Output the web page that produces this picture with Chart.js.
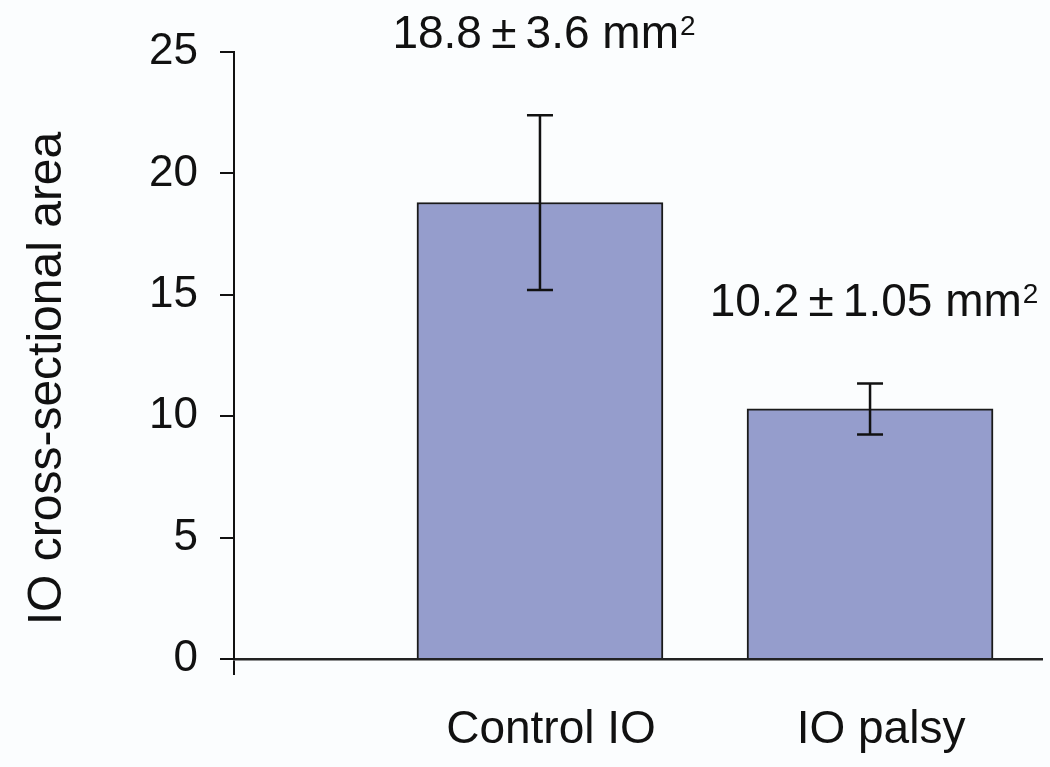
<!DOCTYPE html>
<html>
<head>
<meta charset="utf-8">
<script src="https://cdn.jsdelivr.net/npm/chart.js@4"></script>
<style>
  html, body { margin: 0; padding: 0; background: #fbfdfe; }
  #wrap { width: 1050px; height: 767px; position: relative; }
</style>
</head>
<body>
<div id="wrap"><canvas id="myChart"></canvas></div>
<script>
// values
const categories = ["Control IO", "IO palsy"];
const means = [18.8, 10.3];
const errors = [3.6, 1.05];
const notes = ["18.8\u2009\u00b1\u20093.6 mm", "10.2\u2009\u00b1\u20091.05 mm"];
const yMax = 25;
const yStep = 5;
const yTitle = "IO cross-sectional area";

const FONT = "'Liberation Sans', Arial, sans-serif";

// error bars + the mean ± sd notes above them
const errorBars = {
  id: "errorBars",
  afterDatasetsDraw(chart) {
    const ctx = chart.ctx;
    const y = chart.scales.y;
    const bars = chart.getDatasetMeta(0).data;
    ctx.save();
    ctx.strokeStyle = "#111";
    ctx.lineWidth = 2.5;
    bars.forEach((bar, i) => {
      const top = y.getPixelForValue(means[i] + errors[i]);
      const bot = y.getPixelForValue(means[i] - errors[i]);
      ctx.beginPath();
      ctx.moveTo(bar.x, top); ctx.lineTo(bar.x, bot);
      ctx.moveTo(bar.x - 13, top); ctx.lineTo(bar.x + 13, top);
      ctx.moveTo(bar.x - 13, bot); ctx.lineTo(bar.x + 13, bot);
      ctx.stroke();

      // note text, superscript 2 drawn smaller
      ctx.fillStyle = "#111";
      ctx.textBaseline = "alphabetic";
      ctx.font = "46px " + FONT;
      const w = ctx.measureText(notes[i]).width;
      ctx.font = "28px " + FONT;
      const w2 = ctx.measureText("2").width;
      const x0 = bar.x + 4 - (w + w2 + 1) / 2;
      const base = top - 67;
      ctx.font = "46px " + FONT;
      ctx.textAlign = "left";
      ctx.fillText(notes[i], x0, base);
      ctx.font = "28px " + FONT;
      ctx.fillText("2", x0 + w + 1, base - 13);
    });
    ctx.restore();
  },
  afterDraw(chart) {
    const ctx = chart.ctx;
    const area = chart.chartArea;
    ctx.save();
    ctx.translate(48, (area.top + area.bottom) / 2 + 23);
    ctx.rotate(-Math.PI / 2);
    ctx.font = "48px " + FONT;
    ctx.fillStyle = "#111";
    ctx.textAlign = "center";
    ctx.textBaseline = "middle";
    ctx.fillText(yTitle, 0, 0);
    ctx.restore();
  }
};

const chartTarget = document.querySelector("#myChart");
new Chart(chartTarget, {
  type: "bar",
  data: {
    datasets: [{
      data: means.map((m, i) => ({ x: i + 1, y: m })),
      backgroundColor: "#959dcc",
      borderColor: "#1a1a1a",
      borderWidth: 2,
      barThickness: 246
    }]
  },
  options: {
    responsive: true,
    maintainAspectRatio: false,
    animation: false,
    layout: { padding: { top: 52, right: 8, left: 0, bottom: 0 } },
    plugins: { legend: { display: false }, tooltip: { enabled: false } },
    scales: {
      x: {
        type: "linear",
        offset: false,
        min: 0.073,
        max: 2.521,
        afterBuildTicks: (scale) => {
          scale.ticks = [{ value: scale.min }].concat(categories.map((c, i) => ({ value: i + 1 })));
        },
        afterFit: (scale) => { scale.height = 108; },
        ticks: {
          autoSkip: false,
          maxRotation: 0,
          padding: 28,
          labelOffset: 11,
          color: "#111",
          font: { family: FONT, size: 46 },
          callback: (value) => categories[Math.round(value) - 1] && Math.abs(value - Math.round(value)) < 1e-6 ? categories[Math.round(value) - 1] : ""
        },
        grid: {
          offset: false,
          drawOnChartArea: false,
          tickLength: 16,
          lineWidth: 2,
          color: (c) => c.index === 0 ? "#111" : "rgba(0,0,0,0)"
        },
        border: { color: "#222", width: 2.5 }
      },
      y: {
        min: 0,
        max: yMax,
        afterFit: (scale) => { scale.width = 234; },
        ticks: {
          stepSize: yStep,
          padding: 22,
          color: "#111",
          font: { family: FONT, size: 44 }
        },
        grid: { drawOnChartArea: false, tickLength: 14, lineWidth: 2, color: "#111" },
        border: { color: "#111", width: 2 }
      }
    }
  },
  plugins: [errorBars]
});
</script>
</body>
</html>
